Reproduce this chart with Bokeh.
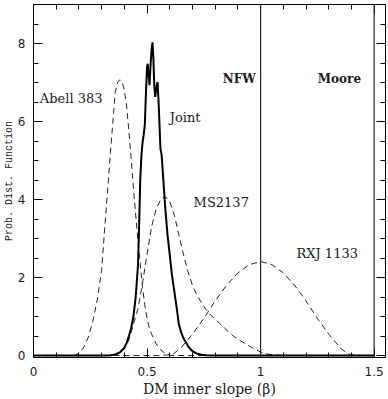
from bokeh.plotting import figure
from bokeh.models import Range1d, FixedTicker, LinearAxis, Span, Label
from bokeh.embed import file_html
from bokeh.resources import INLINE

# Posterior PDFs of the dark-matter inner slope (beta)
abell_x = [0.0, 0.18, 0.20, 0.22, 0.24, 0.26, 0.28, 0.30, 0.32, 0.34, 0.36, 0.37, 0.38,
           0.39, 0.40, 0.41, 0.42, 0.43, 0.44, 0.45, 0.46, 0.47, 0.48, 0.49, 0.50,
           0.51, 0.52, 0.54, 0.56, 0.58, 0.60, 0.62, 1.50]
abell_y = [0.0, 0.0, 0.06, 0.2, 0.45, 0.85, 1.4, 2.2, 3.75, 5.3, 6.75, 7.0, 7.07,
           7.02, 6.8, 6.4, 5.75, 5.05, 4.3, 3.6, 2.95, 2.35, 1.75, 1.3, 0.95,
           0.7, 0.55, 0.3, 0.15, 0.05, 0.01, 0.0, 0.0]

ms2137_x = [0.0, 0.34, 0.36, 0.38, 0.40, 0.42, 0.44, 0.46, 0.48, 0.50, 0.52, 0.54, 0.56,
            0.58, 0.60, 0.62, 0.64, 0.66, 0.68, 0.70, 0.72, 0.74, 0.76, 0.78, 0.80,
            0.82, 0.84, 0.86, 0.88, 0.90, 0.92, 0.94, 0.96, 0.98, 1.00, 1.02, 1.05,
            1.10, 1.50]
ms2137_y = [0.0, 0.0, 0.02, 0.06, 0.18, 0.4, 0.8, 1.2, 1.85, 2.6, 3.3, 3.75, 4.0,
            4.08, 3.95, 3.6, 3.1, 2.6, 2.15, 1.8, 1.55, 1.35, 1.18, 1.04, 0.93,
            0.82, 0.71, 0.6, 0.5, 0.42, 0.35, 0.28, 0.21, 0.15, 0.09, 0.05, 0.02,
            0.0, 0.0]

rxj_x = [0.0, 0.55, 0.60, 0.62, 0.65, 0.70, 0.75, 0.80, 0.85, 0.90, 0.95, 1.00,
         1.05, 1.10, 1.15, 1.20, 1.25, 1.30, 1.35, 1.38, 1.40, 1.45, 1.50]
rxj_y = [0.0, 0.0, 0.02, 0.06, 0.2, 0.55, 0.95, 1.4, 1.8, 2.12, 2.33, 2.41,
         2.33, 2.12, 1.8, 1.4, 0.95, 0.55, 0.2, 0.06, 0.02, 0.0, 0.0]

joint_x = [0.0, 0.30, 0.34, 0.36, 0.38, 0.40, 0.41, 0.42, 0.43, 0.44, 0.45, 0.46,
           0.465, 0.47, 0.475, 0.48, 0.485, 0.49, 0.495, 0.50, 0.503, 0.507, 0.511,
           0.515, 0.52, 0.524, 0.528, 0.532, 0.536, 0.541, 0.546, 0.55, 0.555, 0.559,
           0.564, 0.57, 0.58, 0.59, 0.60, 0.61, 0.62, 0.63, 0.64, 0.65, 0.66, 0.67,
           0.68, 0.69, 0.70, 0.72, 0.74, 0.76, 0.80, 1.50]
joint_y = [0.0, 0.0, 0.01, 0.03, 0.08, 0.2, 0.32, 0.5, 0.7, 1.0, 1.5, 2.3,
           3.3, 4.5, 5.1, 5.45, 5.65, 5.9, 6.7, 7.4, 7.48, 7.2, 6.93,
           7.4, 7.85, 8.03, 7.6, 6.9, 6.63, 6.85, 7.01, 6.6, 5.9, 5.3,
           5.15, 4.65, 3.8, 3.1, 2.58, 2.05, 1.65, 1.25, 0.8, 0.6, 0.45, 0.35,
           0.25, 0.17, 0.11, 0.05, 0.02, 0.01, 0.0, 0.0]

# Theoretical inner slopes: NFW and Moore profiles
model_slopes = [1.0, 1.5]
model_names = ["NFW", "Moore"]

x_ticks = [0, 0.5, 1, 1.5]
x_tick_labels = ["0", "0.5", "1", "1.5"]
y_ticks = [0, 2, 4, 6, 8]

SERIF = "DejaVu Serif"
INK = "#1a1a1a"

p = figure(width=388, height=399, output_backend="svg", toolbar_location=None,
           x_range=Range1d(0, 1.55), y_range=Range1d(-0.05, 9.0),
           min_border_left=28, min_border_right=3, min_border_top=4,
           min_border_bottom=41)
p.grid.visible = False
p.outline_line_color = "black"
p.outline_line_width = 1
p.background_fill_color = "white"
p.border_fill_color = "white"

xt = FixedTicker(ticks=x_ticks, minor_ticks=[round(0.1 * k, 2) for k in range(16)])
yt = FixedTicker(ticks=y_ticks, minor_ticks=[0.5 * k for k in range(19)])


def style_axis(ax):
    ax.major_tick_in = 9
    ax.major_tick_out = 0
    ax.minor_tick_in = 5
    ax.minor_tick_out = 0
    ax.axis_line_color = "black"
    ax.major_tick_line_color = "black"
    ax.minor_tick_line_color = "black"
    ax.major_label_text_font = "DejaVu Sans"
    ax.major_label_text_font_size = "12px"
    ax.major_label_text_color = INK


xa = p.xaxis[0]
xa.ticker = xt
xa.major_label_overrides = {t: s for t, s in zip(x_ticks, x_tick_labels)}
style_axis(xa)
xa.major_label_standoff = 9
xa.axis_label = "DM inner slope (β)"
xa.axis_label_text_font = SERIF
xa.axis_label_text_font_size = "14px"
xa.axis_label_text_font_style = "normal"
xa.axis_label_text_color = INK
xa.axis_label_standoff = 2

ya = p.yaxis[0]
ya.ticker = yt
style_axis(ya)
ya.major_label_standoff = 8
ya.axis_label = "Prob. Dist. Function"
ya.axis_label_text_font = "Liberation Mono"
ya.axis_label_text_font_size = "10px"
ya.axis_label_text_font_style = "normal"
ya.axis_label_text_color = INK
ya.axis_label_standoff = 0

# Mirror tick marks on the top and right edges, without numbers
top = LinearAxis(ticker=xt)
style_axis(top)
top.major_label_text_color = None
top.major_label_standoff = 0
top.major_label_overrides = {t: "" for t in x_ticks}
p.add_layout(top, "above")
right = LinearAxis(ticker=yt)
style_axis(right)
right.major_label_text_color = None
right.major_label_standoff = 0
right.major_label_overrides = {t: "" for t in y_ticks}
p.add_layout(right, "right")

# Model slope markers
for s in model_slopes:
    p.add_layout(Span(location=s, dimension="height", line_color="#222222",
                      line_width=1.2))

# Individual clusters (dashed) and the joint constraint (solid)
for xs, ys in [(abell_x, abell_y), (ms2137_x, ms2137_y), (rxj_x, rxj_y)]:
    p.line(xs, ys, line_color="#222222", line_width=1, line_dash="6 4")
p.line(joint_x, joint_y, line_color="black", line_width=2)

labels = [
    ("Abell 383", 0.028, 6.6, "normal", "13px"),
    ("Joint", 0.60, 6.1, "normal", "13px"),
    ("MS2137", 0.705, 3.92, "normal", "13px"),
    ("RXJ 1133", 1.158, 2.62, "normal", "13px"),
    (model_names[0], 0.833, 7.1, "bold", "12px"),
    (model_names[1], 1.252, 7.1, "bold", "12px"),
]
for txt, lx, ly, style, size in labels:
    p.add_layout(Label(x=lx, y=ly, text=txt, text_font=SERIF,
                       text_font_size=size, text_font_style=style,
                       text_color=INK, text_baseline="middle", text_align="left"))

open("out.html", "w").write(file_html(p, INLINE))
